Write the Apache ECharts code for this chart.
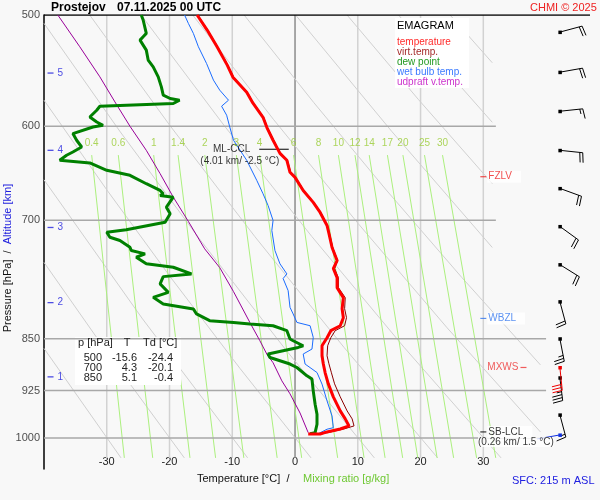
<!DOCTYPE html>
<html><head><meta charset="utf-8">
<script src="https://cdn.jsdelivr.net/npm/echarts@6/dist/echarts.min.js"></script>
<style>html,body{margin:0;padding:0;background:#f8f8f8}#c{width:600px;height:500px}</style>
</head><body><div id="c"></div>
<script>
// ---------------- DATA ----------------
const station = 'Prostejov';
const runTime = '07.11.2025 00 UTC';
const pressureTicks = [500, 600, 700, 850, 925, 1000];
const tempTicks = [-30, -20, -10, 0, 10, 20, 30];
const altKm = [1, 2, 3, 4, 5];
const altP = [904.6, 801.0, 708.2, 624.1, 549.9];

// profiles as [pressure hPa, temperature °C]
const temperature = [[500,-15.6],[512.5,-14.0],[527,-12.4],[542.8,-10.8],[553.6,-9.9],[567.4,-7.7],[577.7,-6.7],[591.2,-5.1],[601,-4.5],[613.9,-3.5],[627.2,-2.4],[634.4,-1.3],[647,-0.8],[652.4,0],[666.5,1.3],[679.7,2.9],[691,4.0],[705.9,5.1],[715.2,5.4],[731.8,5.9],[747.6,6.7],[757.5,6.1],[768.8,6.7],[781.5,6.7],[794.5,7.7],[809,7.5],[821,7.7],[831.9,7.2],[838.7,5.7],[848.4,5.1],[859.6,4.3],[873.9,4.3],[885.4,4.5],[898.6,4.8],[915,5.3],[934.7,6.1],[956.5,7.2],[969.1,8.0],[980.3,8.6],[985.2,7.2],[990,5.1],[993.3,4.0],[993.3,2.1]];
const virtTemp = [[500,-15.5],[512.5,-13.9],[527,-12.3],[542.8,-10.7],[553.6,-9.8],[567.4,-7.6],[577.7,-6.6],[591.2,-5.0],[601,-4.4],[613.9,-3.4],[627.2,-2.3],[634.4,-1.2],[647,-0.7],[652.4,0.1],[666.5,1.4],[679.7,3.0],[691,4.1],[705.9,5.2],[715.2,5.5],[731.8,6.0],[747.6,6.8],[757.5,6.3],[768.8,6.9],[781.5,6.9],[794.5,8.0],[809,7.9],[821,8.2],[831.9,7.9],[838.7,6.4],[848.4,5.7],[859.6,5.2],[873.9,5.1],[885.4,5.4],[898.6,5.8],[915,6.3],[934.7,7.2],[956.5,8.3],[969.1,9.1],[980.3,9.4],[985.2,7.8],[990,5.7],[993.3,4.2],[993.3,2.4]];
const dewPoint = [[500,-24.5],[504.1,-24.2],[515.3,-23.7],[518.1,-24.2],[521,-24.7],[529.6,-23.7],[538.3,-23.4],[544.3,-22.6],[553.3,-21.8],[562.5,-21.3],[570.2,-21.0],[573.3,-19.9],[574.9,-18.4],[578,-19.4],[580.6,-31.1],[584.4,-31.6],[590.9,-32.7],[595.8,-31.6],[599,-30.6],[600.7,-32.2],[607.2,-35.4],[613.9,-34.8],[620.7,-34.0],[625.8,-35.4],[629.2,-36.4],[634.4,-37.5],[637.2,-32.7],[644.9,-30.0],[650.2,-26.3],[659.2,-23.7],[666.5,-21.5],[670.1,-21.0],[672,-21.5],[673.9,-19.4],[685,-20.5],[692.5,-19.9],[702.1,-20.7],[710.9,-26.9],[713.7,-30.0],[719.6,-29.5],[723.5,-27.9],[731.5,-26.3],[735.5,-26.1],[739.5,-23.9],[743.6,-25.3],[751.7,-23.7],[755.9,-19.4],[764.2,-16.5],[767.6,-21.0],[776.8,-21.5],[787.6,-20.2],[794.1,-22.6],[802.7,-21.0],[809.4,-16.2],[816,-15.7],[825,-13.6],[827.4,-9.8],[829.6,-7.2],[831.9,-3.5],[838.7,-1.3],[850.2,-0.8],[852.6,-0.3],[859.6,1.3],[862,0.5],[871.4,-4.3],[876.3,-4.0],[885.8,-0.8],[890.8,0.3],[903,1.9],[907.9,2.7],[925.6,2.9],[946,3.2],[961.7,3.5],[977.6,3.5],[991.2,3.2],[992.8,2.4]];
const wetBulb = [[500,-17.6],[506.9,-17.0],[515.3,-16.2],[526.7,-15.4],[541.3,-14.1],[556.3,-13.0],[565.5,-12.0],[574.9,-10.6],[580.6,-11.7],[589.2,-10.9],[600.7,-10.4],[613.9,-9.8],[634.4,-7.7],[655.6,-6.1],[670.1,-5.1],[683.1,-4.3],[700.1,-3.5],[711.7,-3.7],[735.5,-3.2],[751.7,-2.4],[764.2,-1.3],[770,-1.9],[785.4,-1.1],[807.2,-0.8],[816,-0.3],[827.4,0.3],[831.9,2.4],[848,2.9],[864.3,2.7],[871.4,1.3],[885.8,1.6],[898.2,3.5],[915.4,4.3],[940.9,5.1],[964.5,5.9],[983.2,6.1],[985.6,5.1],[993.9,3.5]];
const updraft = [[500,-37.8],[526.7,-34.3],[553.3,-31.1],[576.5,-28.7],[600,-26.3],[624.1,-23.7],[648.4,-21.5],[673.9,-19.4],[701.2,-17.0],[733.4,-14.4],[756.3,-12.0],[786.7,-9.8],[827.4,-7.2],[852.6,-5.6],[871.4,-4.5],[883.9,-3.5],[910.5,-2.1],[930.1,-0.8],[959.8,0.8],[991.2,2.1]];

// table
const tableP = [500, 700, 850];
const tableT = [-15.6, 4.3, 5.1];
const tableTd = [-24.4, -20.1, -0.4];

// wind: [pressure, direction deg, speed kt]
const wind = [[514.2,75,20],[549.1,80,20],[585.4,84,15],[624.1,96,20],[664.3,110,20],[707.0,126,20],[752.6,122,20],[799.7,165,20],[849.8,169,25],[905.9,173,35],[962.7,165,15]];
const maxWind = [[890.8,174,30]];
const sfcWind = [[994.9,260,3]];

// mixing ratio lines (g/kg): temperature at 629 hPa and at 1033 hPa
const mixRatio = [0.4,0.6,1,1.4,2,3,4,6,8,10,12,14,17,20,25,30];
const mixTopT = [-32.4,-28.16,-22.52,-18.64,-14.38,-9.35,-5.64,-0.23,3.74,6.91,9.55,11.82,14.72,17.19,20.63,23.50];
const mixBotT = [-27.2,-22.68,-16.74,-12.66,-8.16,-2.85,1.06,6.79,11.00,14.35,17.15,19.56,22.64,25.27,28.93,31.98];
const mixTopP = 629, mixBotP = 1033, mixLabelP = 616.9;

// dry adiabats: points [T, p]
const dryAdiabats = [
 [[-40,863.4],[-27.73,1033]],
 [[-40,749.9],[-29.08,880.1],[-17.64,1033]],
 [[-40,655.0],[-24.30,822.6],[-7.55,1033]],
 [[-40,574.9],[-30.02,665.6],[-19.62,770.6],[-8.76,892.3],[2.55,1033]],
 [[-40,506.9],[-27.84,605.6],[-15.02,723.6],[-1.54,864.6],[12.64,1033]],
 [[-32.72,500],[-19.92,599.4],[-6.42,718.7],[7.78,861.7],[22.73,1033]],
 [[-24.52,500],[-11.28,599.4],[2.67,718.7],[17.36,861.7],[32.83,1033]],
 [[-16.31,500],[-3.46,593.1],[10.05,703.6],[24.22,834.6],[39.1,990]],
 [[-8.11,500],[2.98,577.1],[14.53,666.0],[26.60,768.9],[39.1,887]],
 [[0.09,500],[15.39,604.9],[31.43,731.8]],
 [[8.29,500],[19.64,574.1],[31.43,659.1]],
 [[16.49,500],[23.86,545.9],[31.43,596.1]],
 [[24.70,500],[31.43,540.7]]
];

// isobars and their right end temperature
const isobarP = [600, 700, 850, 925, 1000];
const isobarEndT = [32, 32, 40, 40, 40];

// level annotations
const fzlvP = 651.7, wbzlP = 822, mxwsP = 890.8, sbLclP = 990, mlCclP = 623;

// ---------------- CHART ----------------
const FONT = '"Liberation Sans", Arial, sans-serif';
const BARB_T = 42.2;
const ALT_TICK_T = -38.96;
const chart = echarts.init(document.getElementById('c'), null, {renderer:'canvas'});

function lineSet(polys, color, width, z) {
  return {type:'lines', coordinateSystem:'cartesian2d', polyline:true, silent:true, z:z,
    lineStyle:{color:color, width:width, opacity:1}, effect:{show:false},
    data: polys.map(c => ({coords:c}))};
}
function profile(d, color, width, z) {
  return {type:'line', data:d.map(v => [v[1], v[0]]), showSymbol:false, symbol:'none', silent:true,
    lineStyle:{color:color, width:width}, z:z, clip:false};
}
function barbSeries(data, color) {
  return {type:'custom', coordinateSystem:'cartesian2d', data:data, clip:false, z:15, silent:true,
    renderItem:(params, api) => {
      const p = api.value(0), dir = api.value(1), spd = api.value(2);
      const c = api.coord([BARB_T, p]);
      const a = (dir - 90) * Math.PI / 180, ux = Math.cos(a), uy = Math.sin(a);
      const L = 23, ex = c[0] + ux * L, ey = c[1] + uy * L;
      const b = a + 82 * Math.PI / 180, bx = Math.cos(b), by = Math.sin(b);
      const st = {stroke:color, lineWidth:1};
      const ch = [
        {type:'line', shape:{x1:c[0], y1:c[1], x2:ex, y2:ey}, style:st},
        {type:'rect', shape:{x:c[0]-1.5, y:c[1]-1.5, width:3.5, height:3.5}, style:{fill:color}}
      ];
      const n = Math.floor(spd / 10), half = (spd % 10) >= 5;
      let off = 0;
      for (let i = 0; i < n; i++) {
        const sx = ex - ux * off, sy = ey - uy * off;
        ch.push({type:'line', shape:{x1:sx, y1:sy, x2:sx + bx * 10, y2:sy + by * 10}, style:st});
        off += 3;
      }
      if (half) {
        if (n === 0) off = 3;
        const sx = ex - ux * off, sy = ey - uy * off;
        ch.push({type:'line', shape:{x1:sx, y1:sy, x2:sx + bx * 5, y2:sy + by * 5}, style:st});
      }
      return {type:'group', children:ch};
    }};
}
function labelPoint(pt, text, color, pos, dist, extra) {
  return Object.assign({type:'scatter', data:[pt], symbolSize:0, silent:true, clip:false, z:18,
    label:{show:true, position:pos, distance:dist, formatter:text, color:color, fontSize:10, fontFamily:FONT}}, extra || {});
}
function levelMark(pt, text, color, pos, dist, bg) {
  return {type:'scatter', data:[pt], symbol:'rect', symbolSize:[6,1.2], itemStyle:{color:color}, silent:true, clip:false, z:18,
    label:{show:true, position:pos, distance:dist, formatter:text, color:color, fontSize:10, fontFamily:FONT,
      backgroundColor: bg ? '#ffffff' : 'transparent', padding: bg ? [1,9,1,1] : 0}};
}

const isotherms = tempTicks.filter(t => t !== 0).map(t => [[t,500],[t,1033]]);
const mixLines = mixRatio.map((w,i) => [[mixTopT[i], mixTopP],[mixBotT[i], mixBotP]]);
const isobars = isobarP.map((p,i) => [[-40,p],[isobarEndT[i],p]]);

const series = [
  lineSet(isotherms, '#d2d2d2', 1.5, 1),
  lineSet([[[0,500],[0,1033]]], '#8c8c8c', 1.5, 1),
  lineSet(dryAdiabats, '#d0d0d0', 1, 1),
  lineSet(mixLines, '#acf07e', 1, 1),
  lineSet(isobars, '#a8a8a8', 1.5, 3),
  lineSet([[[-40,500],[47,500]]], '#000000', 1.5, 3),
  lineSet([[[-5.7,mlCclP],[-1.0,mlCclP]]], '#000000', 1, 12),
  profile(updraft, '#990099', 1, 10),
  profile(wetBulb, '#1a6cff', 1, 10),
  profile(virtTemp, '#8b0000', 1, 10),
  profile(dewPoint, '#008000', 3, 11),
  profile(temperature, '#ff0000', 3, 12),
  barbSeries(wind, '#000000'),
  barbSeries(maxWind, '#ee0000'),
  barbSeries(sfcWind, '#1030e0'),
  // pressure labels
  {type:'scatter', data:pressureTicks.map(p => [-40, p]), symbolSize:0, silent:true, clip:false, z:20,
    label:{show:true, position:'left', distance:4, formatter:d => d.value[1], fontSize:11, color:'#222', fontFamily:FONT}},
  // altitude ticks
  {type:'scatter', data:altP.map(p => [ALT_TICK_T, p]), symbol:'rect', symbolSize:[6,1.3], itemStyle:{color:'#2020dd'}, silent:true, clip:false, z:20,
    label:{show:true, position:'right', distance:4, formatter:d => altKm[d.dataIndex], fontSize:10, color:'#2020dd', fontFamily:FONT}},
  // mixing ratio labels
  {type:'scatter', data:mixTopT.map(t => [t, mixLabelP]), symbolSize:0, silent:true, clip:false, z:20,
    label:{show:true, position:'inside', formatter:d => mixRatio[d.dataIndex], fontSize:10, color:'#99cc33', fontFamily:FONT}},
  levelMark([30.0, fzlvP], 'FZLV', '#ee2222', 'right', 1, true),
  levelMark([30.0, wbzlP], 'WBZL', '#3377ee', 'right', 1, true),
  levelMark([36.4, mxwsP], 'MXWS', '#ee3333', 'left', 2, false),
  levelMark([30.0, sbLclP], 'SB-LCL', '#000000', 'right', 1, true),
  labelPoint([29.16, 1006.4], '(0.26 km/ 1.5 °C)', '#000000', 'right', 0, {}),
  labelPoint([-5.7, mlCclP], 'ML-CCL', '#000000', 'left', 9),
  labelPoint([-8.8, 635.5], '(4.01 km/ -2.5 °C)', '#000000', 'inside', 0)
];
series[series.length-3].label.backgroundColor = '#ffffff';

const gfx = [];
const txt = (x, y, text, color, size, extra) => Object.assign({type:'text', x:x, y:y, z:30,
  style:{text:text, fill:color, font: size + 'px ' + FONT, textVerticalAlign:'middle', textAlign:'left'}}, extra || {});
gfx.push(txt(51, 8, station, '#000', 12, {style:{text:station, fill:'#000', font:'bold 12px ' + FONT, textVerticalAlign:'middle'}}));
gfx.push(txt(117, 8, runTime, '#000', 12, {style:{text:runTime, fill:'#000', font:'bold 12px ' + FONT, textVerticalAlign:'middle'}}));
gfx.push(txt(530, 8, 'CHMI © 2025', '#ee2222', 11));
// legend box
gfx.push({type:'rect', shape:{x:395, y:18, width:74, height:70}, style:{fill:'#ffffff'}, z:2});
gfx.push(txt(397, 26, 'EMAGRAM', '#000', 11));
const legendItems = [['temperature','#ff2a2a'],['virt.temp.','#a52a2a'],['dew point','#229922'],['wet bulb temp.','#3a7aff'],['udpraft v.temp.','#cc33cc']];
legendItems.forEach((it, i) => gfx.push(txt(397, 42 + i * 10, it[0], it[1], 10)));
// table
gfx.push({type:'rect', shape:{x:75, y:337, width:106, height:48}, style:{fill:'#ffffff'}, z:2});
gfx.push(txt(78, 343, 'p [hPa]', '#222', 11));
gfx.push(txt(127, 343, 'T', '#222', 11, {style:{text:'T', fill:'#222', font:'11px ' + FONT, textVerticalAlign:'middle', textAlign:'center'}}));
gfx.push(txt(143, 343, 'Td [°C]', '#222', 11));
tableP.forEach((p, i) => {
  const y = 358 + i * 10;
  [[102, String(p)], [137, tableT[i].toFixed(1)], [173, tableTd[i].toFixed(1)]].forEach(c => {
    gfx.push({type:'text', x:c[0], y:y, z:30, style:{text:c[1], fill:'#222', font:'11px ' + FONT, textVerticalAlign:'middle', textAlign:'right'}});
  });
});
// axis titles
gfx.push(txt(197, 479, 'Temperature [°C]  /', '#111', 11));
gfx.push(txt(303, 479, 'Mixing ratio [g/kg]', '#6ec832', 11));
gfx.push(txt(512, 481, 'SFC: 215 m ASL', '#2020e0', 11));
gfx.push({type:'text', x:8, y:258, rotation:Math.PI/2, z:30,
  style:{text:'{a|Pressure [hPa]}  /  {b|Altitude [km]}', font:'11px ' + FONT, fill:'#111', textAlign:'center', textVerticalAlign:'middle',
    rich:{a:{fill:'#111', font:'11px ' + FONT}, b:{fill:'#2020dd', font:'11px ' + FONT}}}});

chart.setOption({
  backgroundColor:'#f8f8f8',
  animation:false,
  grid:{left:44, right:10, top:15, bottom:31},
  xAxis:{type:'value', min:-40, max:47, interval:10,
    axisLine:{show:false}, axisTick:{show:false}, splitLine:{show:false},
    axisLabel:{inside:true, margin:2, fontSize:11, color:'#222', fontFamily:FONT, showMaxLabel:false,
      formatter:v => (v >= -30 && v <= 30) ? String(v) : ''}},
  yAxis:{type:'log', min:500, max:1052, inverse:true,
    axisLine:{show:true, onZero:false, lineStyle:{color:'#000', width:1.5}}, axisTick:{show:false},
    axisLabel:{show:false}, splitLine:{show:false}, minorSplitLine:{show:false}},
  series:series,
  graphic:gfx
});
</script></body></html>
